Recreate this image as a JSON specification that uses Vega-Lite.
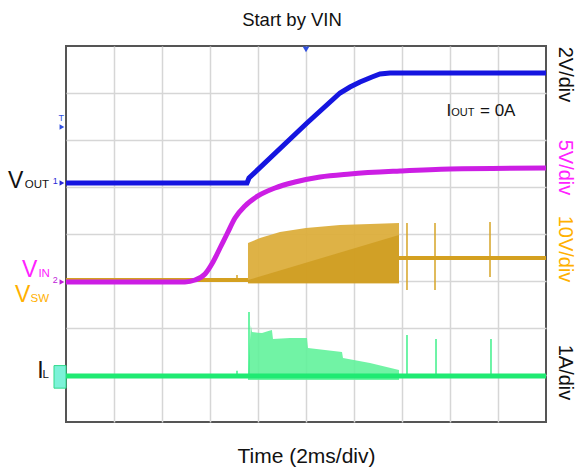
{
  "$schema": "https://vega.github.io/schema/vega-lite/v6.json",
  "width": 480,
  "height": 376,
  "autosize": {"type": "none"},
  "padding": {"left": 66, "top": 46, "right": 30, "bottom": 51},
  "background": "white",
  "config": {
    "view": {"stroke": "#555555", "strokeWidth": 2},
    "font": "Liberation Sans"
  },
  "title": {
    "text": "Start by VIN",
    "fontSize": 18.5,
    "fontWeight": "normal",
    "font": "Liberation Sans",
    "color": "#111111",
    "anchor": "middle",
    "dx": -14,
    "offset": 17
  },
  "datasets": {
    "vout": [
      {"t": -10, "v": 5.085}, {"t": -2.458, "v": 5.085}, {"t": -2.375, "v": 5.191},
      {"t": 0.042, "v": 6.362}, {"t": 1.417, "v": 7.0}, {"t": 1.833, "v": 7.128},
      {"t": 2.25, "v": 7.234}, {"t": 2.75, "v": 7.34}, {"t": 3.083, "v": 7.404},
      {"t": 3.5, "v": 7.426}, {"t": 10, "v": 7.426}
    ],
    "vin": [
      {"t": -10, "v": 2.979}, {"t": -5.042, "v": 2.979}, {"t": -4.625, "v": 3.021},
      {"t": -4.208, "v": 3.149}, {"t": -3.875, "v": 3.404}, {"t": -3.583, "v": 3.702},
      {"t": -3.292, "v": 4.0}, {"t": -2.958, "v": 4.34}, {"t": -2.542, "v": 4.596},
      {"t": -2.0, "v": 4.809}, {"t": -1.292, "v": 4.979}, {"t": -0.458, "v": 5.106},
      {"t": 0.583, "v": 5.213}, {"t": 1.833, "v": 5.277}, {"t": 3.917, "v": 5.34},
      {"t": 6.0, "v": 5.383}, {"t": 10, "v": 5.404}
    ],
    "vsw_line": [
      {"t": -10, "v": 3.021, "seg": "a"}, {"t": -2.417, "v": 3.021, "seg": "a"},
      {"t": 3.875, "v": 3.489, "seg": "b"}, {"t": 10, "v": 3.489, "seg": "b"}
    ],
    "vsw_burst": [
      {"t": -2.417, "v": 3.809, "v2": 2.95}, {"t": -1.917, "v": 3.915, "v2": 2.95},
      {"t": -1.083, "v": 4.043, "v2": 2.95}, {"t": 0, "v": 4.128, "v2": 2.95},
      {"t": 1.417, "v": 4.191, "v2": 2.95}, {"t": 2.667, "v": 4.213, "v2": 2.95},
      {"t": 3.875, "v": 4.234, "v2": 2.95}
    ],
    "vsw_core": [
      {"t": -2.417, "v": 3.021, "v2": 2.95}, {"t": 3.875, "v": 3.979, "v2": 2.95}
    ],
    "vsw_spikes": [
      {"t": -2.875, "v": 3.13, "v2": 3.0}, {"t": 4.208, "v": 4.234, "v2": 2.809},
      {"t": 5.375, "v": 4.234, "v2": 2.809}, {"t": 7.667, "v": 4.255, "v2": 3.085}
    ],
    "il_line": [{"t": -10, "v": 0.979}, {"t": 10, "v": 0.979}],
    "il_burst": [
      {"t": -2.417, "v": 0.979, "v2": 0.894}, {"t": -2.3, "v": 2.06, "v2": 0.894},
      {"t": -2.25, "v": 1.915, "v2": 0.894}, {"t": -2.0, "v": 1.9, "v2": 0.894},
      {"t": -1.833, "v": 1.894, "v2": 0.894}, {"t": -1.6, "v": 1.93, "v2": 0.894},
      {"t": -1.42, "v": 1.957, "v2": 0.894}, {"t": -1.375, "v": 1.766, "v2": 0.894},
      {"t": -0.667, "v": 1.787, "v2": 0.894}, {"t": 0.04, "v": 1.787, "v2": 0.894},
      {"t": 0.083, "v": 1.574, "v2": 0.894}, {"t": 0.792, "v": 1.532, "v2": 0.894},
      {"t": 1.5, "v": 1.489, "v2": 0.894}, {"t": 1.542, "v": 1.362, "v2": 0.894},
      {"t": 2.667, "v": 1.255, "v2": 0.894}, {"t": 3.875, "v": 1.106, "v2": 0.894},
      {"t": 3.876, "v": 0.979, "v2": 0.894}
    ],
    "il_spikes": [
      {"t": -2.375, "v": 2.34, "v2": 0.98}, {"t": -2.875, "v": 1.09, "v2": 0.98},
      {"t": 4.208, "v": 1.851, "v2": 0.98}, {"t": 5.417, "v": 1.766, "v2": 0.98},
      {"t": 7.708, "v": 1.766, "v2": 0.98}
    ],
    "hticks": [
      {"t": -9.6}, {"t": -9.2}, {"t": -8.8}, {"t": -8.4}, {"t": -7.6}, {"t": -7.2}, {"t": -6.8}, {"t": -6.4},
      {"t": -5.6}, {"t": -5.2}, {"t": -4.8}, {"t": -4.4}, {"t": -3.6}, {"t": -3.2}, {"t": -2.8}, {"t": -2.4},
      {"t": -1.6}, {"t": -1.2}, {"t": -0.8}, {"t": -0.4}, {"t": 0.4}, {"t": 0.8}, {"t": 1.2}, {"t": 1.6},
      {"t": 2.4}, {"t": 2.8}, {"t": 3.2}, {"t": 3.6}, {"t": 4.4}, {"t": 4.8}, {"t": 5.2}, {"t": 5.6},
      {"t": 6.4}, {"t": 6.8}, {"t": 7.2}, {"t": 7.6}, {"t": 8.4}, {"t": 8.8}, {"t": 9.2}, {"t": 9.6}
    ],
    "vticks": [
      {"v": 0.2}, {"v": 0.4}, {"v": 0.6}, {"v": 0.8}, {"v": 1.2}, {"v": 1.4}, {"v": 1.6}, {"v": 1.8},
      {"v": 2.2}, {"v": 2.4}, {"v": 2.6}, {"v": 2.8}, {"v": 3.2}, {"v": 3.4}, {"v": 3.6}, {"v": 3.8},
      {"v": 4.2}, {"v": 4.4}, {"v": 4.6}, {"v": 4.8}, {"v": 5.2}, {"v": 5.4}, {"v": 5.6}, {"v": 5.8},
      {"v": 6.2}, {"v": 6.4}, {"v": 6.6}, {"v": 6.8}, {"v": 7.2}, {"v": 7.4}, {"v": 7.6}, {"v": 7.8}
    ],
    "names_big": [
      {"t": -12.42, "v": 4.979, "label": "V", "series": "VOUT"},
      {"t": -11.83, "v": 3.085, "label": "V", "series": "VIN"},
      {"t": -12.13, "v": 2.553, "label": "V", "series": "VSW"},
      {"t": -11.2, "v": 0.936, "label": "I", "series": "IL"}
    ],
    "names_sub": [
      {"t": -11.72, "v": 4.979, "label": "OUT", "series": "VOUT"},
      {"t": -11.15, "v": 3.085, "label": "IN", "series": "VIN"},
      {"t": -11.48, "v": 2.553, "label": "SW", "series": "VSW"},
      {"t": -10.98, "v": 0.936, "label": "L", "series": "IL"}
    ],
    "per_div": [
      {"t": 10.79, "v": 7.394, "label": "2V/div", "series": "VOUT"},
      {"t": 10.79, "v": 5.415, "label": "5V/div", "series": "VIN"},
      {"t": 10.79, "v": 3.681, "label": "10V/div", "series": "VSW"},
      {"t": 10.79, "v": 1.053, "label": "1A/div", "series": "IL"}
    ],
    "note_main": [
      {"t": 5.85, "v": 6.511, "label": "I"},
      {"t": 7.25, "v": 6.511, "label": "= 0A"}
    ],
    "note_sub": [{"t": 6.05, "v": 6.511, "label": "OUT"}],
    "markers_right": [
      {"t": -10.17, "v": 5.085, "ch": "1"},
      {"t": -10.17, "v": 2.979, "ch": "2"},
      {"t": -10.17, "v": 6.277, "ch": "T"}
    ],
    "markers_text": [
      {"t": -10.45, "v": 5.13, "label": "1", "ch": "1"},
      {"t": -10.45, "v": 3.03, "label": "2", "ch": "2"},
      {"t": -10.2, "v": 6.47, "label": "T", "ch": "T"}
    ],
    "trigger": [{"t": 0, "v": 7.93, "ch": "T"}],
    "il_box": [{"t": -10.5, "t2": -10.0, "v": 1.2, "v2": 0.72}]
  },
  "encoding": {
    "x": {
      "field": "t",
      "type": "quantitative",
      "scale": {"domain": [-10, 10], "nice": false, "zero": false},
      "axis": {
        "values": [-8, -6, -4, -2, 0, 2, 4, 6, 8],
        "grid": true,
        "gridColor": "#d6d6d6",
        "gridWidth": 1.5,
        "labels": false,
        "ticks": false,
        "domain": false,
        "title": "Time (2ms/div)",
        "titleFontSize": 21,
        "titleFontWeight": "normal",
        "titleColor": "#111111",
        "titleFont": "Liberation Sans",
        "titlePadding": 23
      }
    },
    "y": {
      "field": "v",
      "type": "quantitative",
      "scale": {"domain": [0, 8], "nice": false, "zero": false},
      "axis": {
        "values": [1, 2, 3, 4, 5, 6, 7],
        "grid": true,
        "gridColor": "#d6d6d6",
        "gridWidth": 1.5,
        "labels": false,
        "ticks": false,
        "domain": false,
        "title": null
      }
    }
  },
  "layer": [
    {
      "data": {"name": "hticks"},
      "mark": {"type": "tick", "orient": "vertical", "size": 6, "thickness": 1, "color": "#b8b8b8"},
      "encoding": {"y": {"datum": 4}}
    },
    {
      "data": {"name": "vticks"},
      "mark": {"type": "tick", "orient": "horizontal", "size": 6, "thickness": 1, "color": "#b8b8b8"},
      "encoding": {"x": {"datum": 0}}
    },
    {
      "data": {"name": "il_burst"},
      "mark": {"type": "area", "color": "#62f29b", "opacity": 0.9},
      "encoding": {"y2": {"field": "v2"}}
    },
    {
      "data": {"name": "il_spikes"},
      "mark": {"type": "rule", "color": "#3ff08a", "strokeWidth": 1.5},
      "encoding": {"y2": {"field": "v2"}}
    },
    {
      "data": {"name": "il_line"},
      "mark": {"type": "line", "color": "#1fea72", "strokeWidth": 5},
      "encoding": {}
    },
    {
      "data": {"name": "vsw_burst"},
      "mark": {"type": "area", "color": "#dcae3c", "opacity": 0.95},
      "encoding": {"y2": {"field": "v2"}}
    },
    {
      "data": {"name": "vsw_core"},
      "mark": {"type": "area", "color": "#cf9d22", "opacity": 0.9},
      "encoding": {"y2": {"field": "v2"}}
    },
    {
      "data": {"name": "vsw_spikes"},
      "mark": {"type": "rule", "color": "#d6a426", "strokeWidth": 1.5},
      "encoding": {"y2": {"field": "v2"}}
    },
    {
      "data": {"name": "vsw_line"},
      "mark": {"type": "line", "color": "#d4a020", "strokeWidth": 4},
      "encoding": {"detail": {"field": "seg"}}
    },
    {
      "data": {"name": "vin"},
      "mark": {"type": "line", "color": "#cc1ee4", "strokeWidth": 5, "interpolate": "monotone"},
      "encoding": {}
    },
    {
      "data": {"name": "vout"},
      "mark": {"type": "line", "color": "#1515e0", "strokeWidth": 5},
      "encoding": {}
    },
    {
      "data": {"name": "il_box"},
      "mark": {"type": "rect", "fill": "#7cf2d8", "stroke": "#2fd98a", "strokeWidth": 1},
      "encoding": {"x2": {"field": "t2"}, "y2": {"field": "v2"}}
    },
    {
      "data": {"name": "markers_right"},
      "mark": {"type": "point", "shape": "triangle-right", "filled": true, "size": 30, "opacity": 1},
      "encoding": {
        "fill": {"field": "ch", "type": "nominal", "scale": {"domain": ["1", "2", "T"], "range": ["#2a2ad6", "#c020d8", "#3050e0"]}, "legend": null}
      }
    },
    {
      "data": {"name": "trigger"},
      "mark": {"type": "point", "shape": "triangle-down", "filled": true, "size": 45, "opacity": 1},
      "encoding": {
        "fill": {"field": "ch", "type": "nominal", "legend": null}
      }
    },
    {
      "data": {"name": "markers_text"},
      "mark": {"type": "text", "fontSize": 9, "align": "center", "baseline": "middle"},
      "encoding": {
        "text": {"field": "label"},
        "fill": {"field": "ch", "type": "nominal", "legend": null}
      }
    },
    {
      "data": {"name": "names_big"},
      "mark": {"type": "text", "fontSize": 23, "align": "left", "baseline": "alphabetic", "font": "Liberation Sans"},
      "encoding": {
        "text": {"field": "label"},
        "color": {"field": "series", "type": "nominal", "scale": {"domain": ["VOUT", "VIN", "VSW", "IL"], "range": ["#111111", "#ff22ff", "#ffb000", "#111111"]}, "legend": null}
      }
    },
    {
      "data": {"name": "names_sub"},
      "mark": {"type": "text", "fontSize": 11.5, "align": "left", "baseline": "alphabetic", "font": "Liberation Sans"},
      "encoding": {
        "text": {"field": "label"},
        "color": {"field": "series", "type": "nominal", "legend": null}
      }
    },
    {
      "data": {"name": "per_div"},
      "mark": {"type": "text", "fontSize": 20, "angle": 90, "align": "center", "baseline": "middle", "font": "Liberation Sans"},
      "encoding": {
        "text": {"field": "label"},
        "color": {"field": "series", "type": "nominal", "legend": null}
      }
    },
    {
      "data": {"name": "note_main"},
      "mark": {"type": "text", "fontSize": 17, "align": "left", "baseline": "alphabetic", "font": "Liberation Sans", "color": "#111111"},
      "encoding": {"text": {"field": "label"}}
    },
    {
      "data": {"name": "note_sub"},
      "mark": {"type": "text", "fontSize": 11, "align": "left", "baseline": "alphabetic", "font": "Liberation Sans", "color": "#111111"},
      "encoding": {"text": {"field": "label"}}
    }
  ]
}
